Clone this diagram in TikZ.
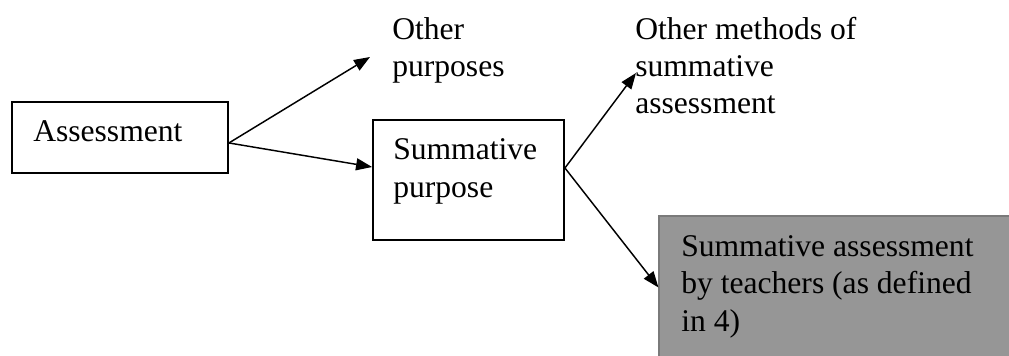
\documentclass[tikz,border=0pt]{standalone}
\usepackage{fontspec}
\setmainfont{Liberation Serif}
\usetikzlibrary{arrows.meta}

\tikzset{
  box/.style={rectangle, draw, line width=1.4pt, inner sep=0pt},
  greybox/.style={rectangle, draw=black!52, fill=black!41, line width=0.8pt, inner sep=0pt},
  txt/.style={inner sep=0pt, align=left, font=\fontsize{23.7pt}{28.1pt}\selectfont},
  arr/.style={-{Triangle[length=12pt,width=9pt]}, line width=1.1pt},
}
\newcommand{\bx}{\node[box]}
\newcommand{\gbx}{\node[greybox]}
% placed at the baseline of the last line
\newcommand{\tx}{\node[txt, anchor=base west]}

\begin{document}
\begin{tikzpicture}[x=0.75pt, y=-0.75pt]
  \useasboundingbox (0,0) rectangle (1009,356);

  % boxes
  \bx[minimum width=162pt, minimum height=53.25pt] (assess) at (120,137.5) {};
  \bx[minimum width=143.25pt, minimum height=90pt] (sumbox) at (468.5,180) {};
  \gbx[minimum width=264.75pt, minimum height=107.25pt] (teachbox) at (835.5,287.5) {};

  % texts
  \tx (assesstxt) at (33,142) {Assessment};
  \tx (sumtxt) at (393,197) {Summative\\purpose};
  \tx (othpurp) at (392,77) {Other\\purposes};
  \tx (othmeth) at (635,114) {Other methods of\\summative\\assessment};
  \tx (teachtxt) at (681,331) {Summative assessment\\by teachers (as defined\\in 4)};

  \coordinate (purptip) at (370,57);
  \coordinate (methtip) at (636,73);

  \draw[arr] ([yshift=-4.1pt]assess.east) -- (purptip);
  \draw[arr] ([yshift=-4.1pt]assess.east) -- ([yshift=9.75pt]sumbox.west);
  \draw[arr] ([yshift=9pt]sumbox.east) -- (methtip);
  \draw[arr] ([yshift=9pt]sumbox.east) -- (teachbox.west);
\end{tikzpicture}
\end{document}
